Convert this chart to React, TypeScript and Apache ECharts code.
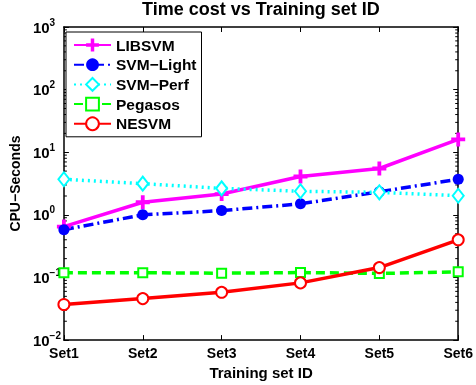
import React, { useEffect, useRef } from "react";
import * as echarts from "echarts";

// Training sets on the x axis
const sets = ["Set1", "Set2", "Set3", "Set4", "Set5", "Set6"];

// CPU seconds per solver
const libsvm = [0.65, 1.59, 2.15, 4.1, 5.5, 16];
const svmLight = [0.58, 1.0, 1.17, 1.5, 2.34, 3.7];
const svmPerf = [3.7, 3.15, 2.65, 2.38, 2.29, 2.02];
const pegasos = [0.119, 0.119, 0.117, 0.12, 0.116, 0.123];
const nesvm = [0.037, 0.046, 0.058, 0.082, 0.144, 0.4];

// decade exponents shown on the log axis
const decades = [-2, -1, 0, 1, 2, 3];
const minorMultipliers = [2, 3, 4, 5, 6, 7, 8, 9];

const FONT = "Liberation Sans, Arial, Helvetica, sans-serif";

const PLUS =
  "path://M5.1,0H8.9V5.1H14V8.9H8.9V14H5.1V8.9H0V5.1H5.1Z";

const minorValues: number[][] = [];
decades.slice(0, -1).forEach((e) => {
  minorMultipliers.forEach((m) => minorValues.push([0, m * Math.pow(10, e)]));
});

const supText = (v: number) => {
  const e = Math.round(Math.log10(v));
  const s = e < 0 ? "\u2212" + Math.abs(e) : String(e);
  return `{b|10}{s|${s}}`;
};

export default function App() {
  const ref = useRef<HTMLDivElement>(null);

  useEffect(() => {
    if (!ref.current) return;
    const chart = echarts.init(ref.current, undefined, { renderer: "svg" });

    const axisLine = { show: true, lineStyle: { color: "#000", width: 1.5 } };
    const yBase = {
      type: "log" as const,
      logBase: 10,
      min: Math.pow(10, decades[0]),
      max: Math.pow(10, decades[decades.length - 1]),
      splitNumber: decades.length - 1,
      axisLine,
      axisTick: { show: true, inside: true, length: 5, lineStyle: { color: "#000", width: 1 } },
      splitLine: { show: false },
    };
    const xBase = {
      type: "category" as const,
      data: sets,
      boundaryGap: false,
      axisLine,
      axisTick: { show: true, inside: true, length: 5, alignWithLabel: true, lineStyle: { color: "#000", width: 1 } },
      splitLine: { show: false },
    };

    const lineSeries = (
      name: string,
      data: number[],
      color: string,
      type: any,
      symbol: string,
      symbolSize: any,
      filled: boolean
    ) => ({
      name,
      type: "line" as const,
      data,
      xAxisIndex: 0,
      yAxisIndex: 0,
      clip: false,
      symbol,
      symbolSize,
      showAllSymbol: true,
      lineStyle: { color, width: 3.5, type },
      itemStyle: filled
        ? { color, borderWidth: 0 }
        : { color, borderColor: color, borderWidth: 3 },
      emphasis: { disabled: true },
    });

    chart.setOption({
      animation: false,
      title: {
        text: "Time cost vs Training set ID",
        left: 142,
        top: 0,
        padding: 0,
        textStyle: { fontFamily: FONT, fontSize: 18, fontWeight: "bold", color: "#000" },
      },
      legend: {
        data: ["LIBSVM", "SVM\u2212Light", "SVM\u2212Perf", "Pegasos", "NESVM"],
        orient: "vertical",
        left: 66,
        top: 32,
        padding: [5, 5, 5, 7],
        itemWidth: 37,
        itemHeight: 16,
        itemGap: 3.7,
        borderColor: "#000",
        borderWidth: 1,
        backgroundColor: "#fff",
        selectedMode: false,
        textStyle: { fontFamily: FONT, fontSize: 15.5, fontWeight: "bold", color: "#000" },
      },
      grid: { left: 60, right: 14, top: 27, bottom: 43, containLabel: false },
      xAxis: [
        {
          ...xBase,
          position: "bottom",
          name: "Training set ID",
          nameLocation: "middle",
          nameGap: 20,
          nameTextStyle: { fontFamily: FONT, fontSize: 15, fontWeight: "bold", color: "#000" },
          axisLabel: {
            fontFamily: FONT,
            fontSize: 14,
            fontWeight: "bold",
            color: "#000",
            margin: 6,
          },
        },
        { ...xBase, position: "top", axisLabel: { show: false } },
      ],
      yAxis: [
        {
          ...yBase,
          position: "left",
          name: "CPU\u2212Seconds",
          nameLocation: "middle",
          nameGap: 36,
          nameTextStyle: { fontFamily: FONT, fontSize: 14, fontWeight: "bold", color: "#000" },
          axisLabel: {
            formatter: supText,
            align: "left",
            margin: 31,
            rich: {
              b: { fontFamily: FONT, fontSize: 15, fontWeight: "bold", color: "#000" },
              s: {
                fontFamily: FONT,
                fontSize: 10,
                fontWeight: "bold",
                color: "#000",
                padding: [0, 0, 10, 0],
              },
            },
          },
        },
        { ...yBase, position: "right", axisLabel: { show: false } },
      ],
      series: [
        {
          name: "minor ticks",
          type: "custom",
          xAxisIndex: 0,
          yAxisIndex: 0,
          data: minorValues,
          encode: { x: 0, y: 1 },
          silent: true,
          clip: false,
          renderItem: (params: any, api: any) => {
            const cs = params.coordSys;
            const y = api.coord([0, api.value(1)])[1];
            const style = { stroke: "#000", lineWidth: 1 };
            return {
              type: "group",
              children: [
                { type: "line", shape: { x1: cs.x, y1: y, x2: cs.x + 3, y2: y }, style },
                {
                  type: "line",
                  shape: { x1: cs.x + cs.width - 3, y1: y, x2: cs.x + cs.width, y2: y },
                  style,
                },
              ],
            };
          },
        },
        lineSeries("LIBSVM", libsvm, "#ff00ff", "solid", PLUS, 14, true),
        lineSeries("SVM\u2212Light", svmLight, "#0000ff", [10, 4, 2, 4], "circle", 11, true),
        lineSeries("SVM\u2212Perf", svmPerf, "#00ffff", [2, 4], "emptyDiamond", [11, 14], false),
        lineSeries("Pegasos", pegasos, "#00ff00", [9, 5], "emptyRect", 9, false),
        lineSeries("NESVM", nesvm, "#ff0000", "solid", "emptyCircle", 11, false),
      ],
    });

    return () => chart.dispose();
  }, []);

  return (
    <div
      ref={ref}
      style={{ position: "fixed", left: 0, top: 0, width: 476, height: 385 }}
    />
  );
}
